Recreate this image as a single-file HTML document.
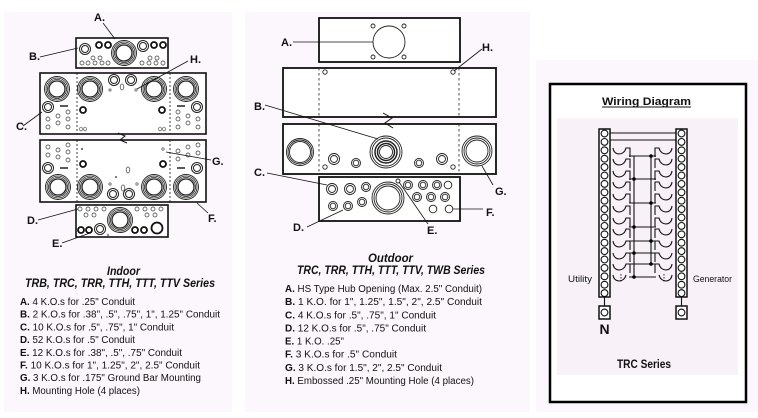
<!DOCTYPE html>
<html><head><meta charset="utf-8"><style>
html,body{margin:0;padding:0;background:#fff;}
svg{display:block;}
text{font-family:"Liberation Sans",sans-serif;fill:#111;}
</style></head><body>
<svg width="758" height="418" viewBox="0 0 758 418" xmlns="http://www.w3.org/2000/svg">
<defs>
<g id="bk"><circle r="12.5" fill="#fff" stroke="#222" stroke-width="0.9"/><circle r="11" fill="none" stroke="#222" stroke-width="0.8"/><circle r="9.5" fill="none" stroke="#222" stroke-width="0.8"/><circle r="8" fill="none" stroke="#222" stroke-width="1.3"/></g>
<g id="mk"><circle r="5.5" fill="#fff" stroke="#222" stroke-width="1"/><circle r="3.5" fill="none" stroke="#222" stroke-width="1"/></g>
<g id="tk"><circle r="3" fill="#fff" stroke="#111" stroke-width="1.8"/></g>
<g id="so"><circle r="2" fill="#fff" stroke="#333" stroke-width="0.7"/></g>
<g id="m2"><circle r="5.5" fill="#fff" stroke="#222" stroke-width="0.9"/><circle r="3.5" fill="none" stroke="#222" stroke-width="0.9"/></g>
<g id="m1"><circle r="4.5" fill="#fff" stroke="#222" stroke-width="0.9"/><circle r="2.8" fill="none" stroke="#222" stroke-width="0.9"/></g>
<g id="s1"><circle r="3.8" fill="#fff" stroke="#222" stroke-width="0.9"/></g>
<g id="tc"><circle r="3.4" fill="#fff" stroke="#111" stroke-width="1.1"/></g>
</defs>

<!-- panel backgrounds -->
<rect x="4" y="12" width="228" height="400" fill="#fcf7fc"/>
<rect x="245" y="12" width="285" height="400" fill="#fcf7fc"/>
<rect x="536" y="60" width="222" height="352" fill="#fcf7fc"/>

<!-- ===== LEFT (Indoor) ===== -->
<g stroke="#111" fill="none">
<rect x="76" y="38" width="92" height="30" stroke-width="1.6" fill="#fff"/>
<rect x="40" y="73" width="166" height="61" stroke-width="1.6" fill="#fff"/>
<rect x="40" y="140" width="166" height="62" stroke-width="1.6" fill="#fff"/>
<rect x="76" y="205" width="92" height="32" stroke-width="1.6" fill="#fff"/>
<g stroke-dasharray="2,2" stroke-width="0.8">
<line x1="77" y1="73" x2="77" y2="134"/><line x1="170" y1="73" x2="170" y2="134"/>
<line x1="77" y1="140" x2="77" y2="202"/><line x1="170" y1="140" x2="170" y2="202"/>
</g>
<polyline points="118,133 125,136 120,140 127,143" stroke-width="1" stroke="#111"/>
</g>
<!-- box A/B -->
<use href="#bk" x="124" y="53"/>
<use href="#mk" x="85" y="49"/><use href="#mk" x="143" y="46"/>
<use href="#tk" x="99" y="45"/><use href="#tk" x="108" y="45"/><use href="#tk" x="154" y="45"/><use href="#tk" x="163" y="45"/>
<use href="#so" x="82" y="63"/><use href="#so" x="88" y="63"/><use href="#so" x="95" y="63"/><use href="#so" x="102" y="63"/><use href="#so" x="108" y="63"/>
<use href="#so" x="93" y="58"/><use href="#so" x="100" y="58"/>
<use href="#so" x="142" y="63"/><use href="#so" x="149" y="63"/><use href="#so" x="156" y="63"/><use href="#so" x="163" y="63"/>
<use href="#so" x="150" y="58"/><use href="#so" x="157" y="58"/>
<!-- box 1 -->
<use href="#bk" x="57" y="89"/><use href="#bk" x="90" y="89"/><use href="#bk" x="154" y="89"/><use href="#bk" x="186" y="89"/>
<use href="#mk" x="114" y="80"/><use href="#mk" x="131" y="80"/>
<ellipse cx="122" cy="87" rx="1.8" ry="3" fill="none" stroke="#333" stroke-width="0.7"/>
<rect x="109" y="89" width="2" height="2" fill="none" stroke="#333" stroke-width="0.6"/>
<rect x="135" y="89" width="2" height="2" fill="none" stroke="#333" stroke-width="0.6"/>
<use href="#mk" x="48" y="107"/><use href="#mk" x="197" y="107"/>
<line x1="60" y1="106" x2="68" y2="106" stroke="#222" stroke-width="1.5"/>
<line x1="177" y1="106" x2="185" y2="106" stroke="#222" stroke-width="1.5"/>
<use href="#tk" x="83" y="110"/><use href="#tk" x="162" y="110"/>
<use href="#so" x="48" y="119"/><use href="#so" x="48" y="127"/><use href="#so" x="58" y="116"/><use href="#so" x="58" y="123"/><use href="#so" x="68" y="112"/><use href="#so" x="68" y="119"/><use href="#so" x="68" y="127"/>
<use href="#so" x="178" y="112"/><use href="#so" x="178" y="119"/><use href="#so" x="178" y="127"/><use href="#so" x="188" y="116"/><use href="#so" x="188" y="123"/><use href="#so" x="198" y="119"/><use href="#so" x="198" y="127"/>
<ellipse cx="81" cy="129" rx="1.3" ry="2" fill="none" stroke="#333" stroke-width="0.6"/><ellipse cx="85" cy="129" rx="1.3" ry="2" fill="none" stroke="#333" stroke-width="0.6"/>
<ellipse cx="160" cy="129" rx="1.3" ry="2" fill="none" stroke="#333" stroke-width="0.6"/><ellipse cx="164" cy="129" rx="1.3" ry="2" fill="none" stroke="#333" stroke-width="0.6"/>
<!-- box 2 -->
<use href="#bk" x="58" y="187"/><use href="#bk" x="90" y="187"/><use href="#bk" x="154" y="187"/><use href="#bk" x="186" y="187"/>
<use href="#mk" x="113" y="194"/><use href="#mk" x="129" y="194"/>
<use href="#mk" x="48" y="168"/><use href="#mk" x="197" y="168"/>
<line x1="60" y1="168" x2="68" y2="168" stroke="#222" stroke-width="1.5"/>
<line x1="177" y1="168" x2="185" y2="168" stroke="#222" stroke-width="1.5"/>
<use href="#tk" x="83" y="164"/><use href="#tk" x="163" y="164"/>
<use href="#so" x="48" y="147"/><use href="#so" x="48" y="155"/><use href="#so" x="58" y="150"/><use href="#so" x="58" y="157"/><use href="#so" x="68" y="145"/><use href="#so" x="68" y="152"/><use href="#so" x="68" y="160"/>
<use href="#so" x="178" y="151"/><use href="#so" x="178" y="159"/><use href="#so" x="188" y="147"/><use href="#so" x="188" y="155"/><use href="#so" x="198" y="145"/><use href="#so" x="198" y="153"/>
<ellipse cx="128" cy="170" rx="1.8" ry="3" fill="none" stroke="#333" stroke-width="0.7"/>
<ellipse cx="123" cy="188" rx="1.8" ry="3" fill="none" stroke="#333" stroke-width="0.7"/>
<circle cx="116" cy="177" r="0.9" fill="#222"/>
<circle cx="110" cy="184" r="1.2" fill="none" stroke="#333" stroke-width="0.6"/><circle cx="137" cy="184" r="1.2" fill="none" stroke="#333" stroke-width="0.6"/>
<circle cx="82" cy="149" r="1" fill="#444"/><circle cx="163" cy="149" r="1.2" fill="none" stroke="#333" stroke-width="0.6"/>
<!-- bottom box -->
<use href="#bk" x="120" y="220"/>
<use href="#so" x="80" y="209"/><use href="#so" x="88" y="209"/><use href="#so" x="96" y="209"/><use href="#so" x="104" y="209"/>
<use href="#so" x="86" y="215"/><use href="#so" x="94" y="215"/>
<use href="#so" x="137" y="209"/><use href="#so" x="145" y="209"/><use href="#so" x="153" y="209"/><use href="#so" x="161" y="209"/>
<use href="#so" x="147" y="215"/><use href="#so" x="155" y="215"/>
<use href="#tk" x="81" y="230"/><use href="#tk" x="89" y="230"/><use href="#mk" x="100" y="229"/>
<use href="#tk" x="135" y="230"/><use href="#tk" x="144" y="230"/>
<circle cx="157" cy="228" r="5.5" fill="#fff" stroke="#111" stroke-width="1.8"/>
<circle cx="108" cy="235" r="1" fill="none" stroke="#333" stroke-width="0.5"/>
<!-- left leaders -->
<g stroke="#111" stroke-width="0.8">
<line x1="103" y1="23" x2="115" y2="39"/>
<line x1="40" y1="57" x2="78" y2="48"/>
<line x1="188" y1="61" x2="137" y2="89"/>
<line x1="23" y1="126" x2="42" y2="112"/>
<line x1="211" y1="160" x2="166" y2="152"/>
<line x1="38" y1="220" x2="78" y2="209"/>
<line x1="208" y1="213" x2="197" y2="203"/>
<line x1="62" y1="243" x2="90" y2="233"/>
</g>
<g font-weight="bold" font-size="11">
<text x="94" y="21">A.</text>
<text x="29" y="60">B.</text>
<text x="190" y="63">H.</text>
<text x="16" y="130">C.</text>
<text x="212" y="165">G.</text>
<text x="27" y="224">D.</text>
<text x="208" y="222">F.</text>
<text x="52" y="247">E.</text>
</g>
<!-- left text -->
<text x="123.5" y="275" text-anchor="middle" font-size="12" font-weight="bold" font-style="italic" textLength="33" lengthAdjust="spacingAndGlyphs">Indoor</text>
<text x="25" y="287" font-size="12" font-weight="bold" font-style="italic" textLength="190" lengthAdjust="spacingAndGlyphs">TRB, TRC, TRR, TTH, TTT, TTV Series</text>
<g font-size="10">
<text x="20" y="305" textLength="115" lengthAdjust="spacingAndGlyphs"><tspan font-weight="bold">A.</tspan> 4 K.O.s for .25" Conduit</text>
<text x="20" y="317.7" textLength="200" lengthAdjust="spacingAndGlyphs"><tspan font-weight="bold">B.</tspan> 2 K.O.s for .38", .5", .75", 1", 1.25" Conduit</text>
<text x="20" y="330.4" textLength="154" lengthAdjust="spacingAndGlyphs"><tspan font-weight="bold">C.</tspan> 10 K.O.s for .5", .75", 1" Conduit</text>
<text x="20" y="343.1" textLength="115" lengthAdjust="spacingAndGlyphs"><tspan font-weight="bold">D.</tspan> 52 K.O.s for .5" Conduit</text>
<text x="20" y="355.8" textLength="162" lengthAdjust="spacingAndGlyphs"><tspan font-weight="bold">E.</tspan> 12 K.O.s for .38", .5", .75" Conduit</text>
<text x="20" y="368.5" textLength="180" lengthAdjust="spacingAndGlyphs"><tspan font-weight="bold">F.</tspan> 10 K.O.s for 1", 1.25", 2", 2.5" Conduit</text>
<text x="20" y="381.2" textLength="181" lengthAdjust="spacingAndGlyphs"><tspan font-weight="bold">G.</tspan> 3 K.O.s for .175" Ground Bar Mounting</text>
<text x="20" y="394" textLength="120" lengthAdjust="spacingAndGlyphs"><tspan font-weight="bold">H.</tspan> Mounting Hole (4 places)</text>
</g>

<!-- ===== MIDDLE (Outdoor) ===== -->
<g stroke="#111" fill="#fff">
<rect x="319" y="18" width="141" height="44" stroke-width="1.8"/>
<rect x="283" y="68" width="213" height="49" stroke-width="1.8"/>
<rect x="283" y="124" width="213" height="50" stroke-width="1.8"/>
<rect x="319" y="177" width="141" height="44" stroke-width="1.8"/>
</g>
<g stroke="#222" stroke-width="0.8" stroke-dasharray="2.5,2.5">
<line x1="319" y1="68" x2="319" y2="117"/><line x1="459" y1="68" x2="459" y2="117"/>
<line x1="319" y1="124" x2="319" y2="174"/><line x1="459" y1="124" x2="459" y2="174"/>
</g>
<polyline points="383,113 392,118 385,123 393,128" fill="none" stroke="#111" stroke-width="1"/>
<g fill="#fff" stroke="#222" stroke-width="0.9">
<circle cx="389" cy="42" r="16"/>
<circle cx="373" cy="26" r="2"/><circle cx="404" cy="26" r="2"/><circle cx="373" cy="57" r="2"/><circle cx="404" cy="57" r="2"/>
<circle cx="325" cy="72" r="2.2"/><circle cx="453" cy="72" r="2.2"/>
<circle cx="300" cy="152" r="13.5"/><circle cx="300" cy="152" r="12" fill="none"/><circle cx="300" cy="152" r="10.5" fill="none"/>
<circle cx="386" cy="152" r="16"/><circle cx="386" cy="152" r="14" fill="none"/><circle cx="386" cy="152" r="11" fill="none" stroke-width="1.5"/><circle cx="386" cy="152" r="8.5" fill="none" stroke-width="1.5"/><circle cx="386" cy="152" r="6.5" fill="none"/>
<circle cx="477" cy="151" r="15"/><circle cx="477" cy="151" r="13" fill="none"/><circle cx="477" cy="151" r="11" fill="none"/>
<circle cx="325" cy="167" r="2.2"/><circle cx="453" cy="167" r="2.2"/>
<circle cx="388" cy="198" r="16"/><circle cx="388" cy="198" r="14" fill="none"/><circle cx="388" cy="198" r="12" fill="none"/>
<circle cx="398" cy="181" r="2"/>
</g>
<use href="#m2" x="334" y="159"/><use href="#m1" x="356" y="163"/><use href="#m1" x="419" y="163"/><use href="#m2" x="442" y="159"/>
<use href="#m2" x="332" y="189"/><use href="#m2" x="350" y="189"/><use href="#m1" x="366" y="187"/>
<use href="#m1" x="333" y="206"/><use href="#m1" x="348" y="206"/><use href="#m1" x="362" y="202"/>
<use href="#m1" x="408" y="185"/><use href="#m1" x="423" y="185"/><use href="#m1" x="437" y="185"/><use href="#s1" x="448" y="185"/>
<use href="#m1" x="417" y="197"/><use href="#m1" x="431" y="197"/><use href="#m1" x="445" y="197"/>
<use href="#s1" x="433" y="209"/><use href="#s1" x="449" y="209"/>
<g stroke="#111" stroke-width="0.8">
<line x1="293" y1="42" x2="373" y2="42"/>
<line x1="482" y1="49" x2="454" y2="71"/>
<line x1="265" y1="105" x2="378" y2="139"/>
<line x1="267" y1="173" x2="327" y2="185"/>
<line x1="493" y1="185" x2="482" y2="166"/>
<line x1="307" y1="227" x2="343" y2="210"/>
<line x1="428" y1="224" x2="399" y2="182"/>
<line x1="453" y1="209" x2="483" y2="209"/>
</g>
<g font-weight="bold" font-size="11">
<text x="281" y="46">A.</text>
<text x="482" y="51">H.</text>
<text x="254" y="110">B.</text>
<text x="254" y="176">C.</text>
<text x="495" y="195">G.</text>
<text x="293" y="231">D.</text>
<text x="427" y="234">E.</text>
<text x="486" y="216">F.</text>
</g>
<text x="390.5" y="262" text-anchor="middle" font-size="12" font-weight="bold" font-style="italic" textLength="45" lengthAdjust="spacingAndGlyphs">Outdoor</text>
<text x="297" y="274" font-size="12" font-weight="bold" font-style="italic" textLength="188" lengthAdjust="spacingAndGlyphs">TRC, TRR, TTH, TTT, TTV, TWB Series</text>
<g font-size="10">
<text x="285" y="292" textLength="197" lengthAdjust="spacingAndGlyphs"><tspan font-weight="bold">A.</tspan> HS Type Hub Opening (Max. 2.5" Conduit)</text>
<text x="285" y="305.1" textLength="197" lengthAdjust="spacingAndGlyphs"><tspan font-weight="bold">B.</tspan> 1 K.O. for 1", 1.25", 1.5", 2", 2.5" Conduit</text>
<text x="285" y="318.3" textLength="151" lengthAdjust="spacingAndGlyphs"><tspan font-weight="bold">C.</tspan> 4 K.O.s for .5", .75", 1" Conduit</text>
<text x="285" y="331.4" textLength="141" lengthAdjust="spacingAndGlyphs"><tspan font-weight="bold">D.</tspan> 12 K.O.s for .5", .75" Conduit</text>
<text x="285" y="344.6" textLength="59" lengthAdjust="spacingAndGlyphs"><tspan font-weight="bold">E.</tspan> 1 K.O. .25"</text>
<text x="285" y="357.7" textLength="112" lengthAdjust="spacingAndGlyphs"><tspan font-weight="bold">F.</tspan> 3 K.O.s for .5" Conduit</text>
<text x="285" y="370.9" textLength="157" lengthAdjust="spacingAndGlyphs"><tspan font-weight="bold">G.</tspan> 3 K.O.s for 1.5", 2", 2.5" Conduit</text>
<text x="285" y="384" textLength="189" lengthAdjust="spacingAndGlyphs"><tspan font-weight="bold">H.</tspan> Embossed .25" Mounting Hole (4 places)</text>
</g>

<!-- ===== RIGHT (Wiring) ===== -->
<rect x="550" y="84" width="196" height="318" fill="#fff" stroke="#000" stroke-width="2.5"/>
<rect x="557" y="118" width="181" height="257" fill="#f8f2f8"/>
<text x="646.5" y="105" text-anchor="middle" font-size="11" font-weight="bold" textLength="89" lengthAdjust="spacingAndGlyphs">Wiring Diagram</text>
<line x1="602" y1="107" x2="691" y2="107" stroke="#111" stroke-width="1"/>
<!-- strips -->
<rect x="599" y="129" width="11" height="168" fill="#fff" stroke="#111" stroke-width="1.5"/>
<rect x="676" y="129" width="11" height="168" fill="#fff" stroke="#111" stroke-width="1.5"/>
<g>
<use href="#tc" x="604.5" y="133.5"/><use href="#tc" x="604.5" y="141.9"/><use href="#tc" x="604.5" y="150.3"/><use href="#tc" x="604.5" y="158.7"/><use href="#tc" x="604.5" y="167.1"/>
<use href="#tc" x="604.5" y="175.5"/><use href="#tc" x="604.5" y="183.9"/><use href="#tc" x="604.5" y="192.3"/><use href="#tc" x="604.5" y="200.7"/><use href="#tc" x="604.5" y="209.1"/>
<use href="#tc" x="604.5" y="217.5"/><use href="#tc" x="604.5" y="225.9"/><use href="#tc" x="604.5" y="234.3"/><use href="#tc" x="604.5" y="242.7"/><use href="#tc" x="604.5" y="251.1"/>
<use href="#tc" x="604.5" y="259.5"/><use href="#tc" x="604.5" y="267.9"/><use href="#tc" x="604.5" y="276.3"/><use href="#tc" x="604.5" y="284.7"/><use href="#tc" x="604.5" y="293.1"/>
<use href="#tc" x="681.5" y="133.5"/><use href="#tc" x="681.5" y="141.9"/><use href="#tc" x="681.5" y="150.3"/><use href="#tc" x="681.5" y="158.7"/><use href="#tc" x="681.5" y="167.1"/>
<use href="#tc" x="681.5" y="175.5"/><use href="#tc" x="681.5" y="183.9"/><use href="#tc" x="681.5" y="192.3"/><use href="#tc" x="681.5" y="200.7"/><use href="#tc" x="681.5" y="209.1"/>
<use href="#tc" x="681.5" y="217.5"/><use href="#tc" x="681.5" y="225.9"/><use href="#tc" x="681.5" y="234.3"/><use href="#tc" x="681.5" y="242.7"/><use href="#tc" x="681.5" y="251.1"/>
<use href="#tc" x="681.5" y="259.5"/><use href="#tc" x="681.5" y="267.9"/><use href="#tc" x="681.5" y="276.3"/><use href="#tc" x="681.5" y="284.7"/><use href="#tc" x="681.5" y="293.1"/>
</g>
<g stroke="#111" stroke-width="1.1" fill="none">
<line x1="610" y1="133" x2="676" y2="133"/>
<line x1="610" y1="140" x2="676" y2="140"/>
<line x1="604.5" y1="297" x2="604.5" y2="306"/>
<line x1="681.5" y1="297" x2="681.5" y2="306"/>
<rect x="599" y="306" width="11" height="13" fill="#fff" stroke-width="1.5"/>
<rect x="676" y="306" width="11" height="13" fill="#fff" stroke-width="1.5"/>
<circle cx="604.5" cy="312.5" r="3.4"/><circle cx="681.5" cy="312.5" r="3.4"/>
<line x1="634" y1="156" x2="634" y2="277"/>
<line x1="651" y1="156" x2="651" y2="264"/>
<line x1="629" y1="156" x2="656" y2="156"/>
<line x1="629" y1="179" x2="656" y2="179"/>
<line x1="629" y1="203" x2="656" y2="203"/>
<line x1="629" y1="227" x2="656" y2="227"/>
<line x1="629" y1="241" x2="656" y2="241"/>
<line x1="629" y1="253" x2="656" y2="253"/>
<line x1="629" y1="264" x2="656" y2="264"/>
<line x1="629" y1="277" x2="656" y2="277"/>
<path d="M613,148 C614,156 624,156 626,148 L630,148 L630,157"/>
<path d="M613,159 C614,167 624,167 626,159 L630,159 L630,168"/>
<path d="M613,171 C614,179 624,179 626,171 L630,171 L630,180"/>
<path d="M613,182 C614,190 624,190 626,182 L630,182 L630,191"/>
<path d="M613,194 C614,202 624,202 626,194 L630,194 L630,203"/>
<path d="M613,206 C614,214 624,214 626,206 L630,206 L630,215"/>
<path d="M613,218 C614,226 624,226 626,218 L630,218 L630,227"/>
<path d="M613,229 C614,237 624,237 626,229 L630,229 L630,238"/>
<path d="M613,241 C614,249 624,249 626,241 L630,241 L630,250"/>
<path d="M613,253 C614,261 624,261 626,253 L630,253 L630,262"/>
<path d="M613,264 C614,272 624,272 626,264 L630,264 L630,273"/>
<path d="M613,275 C614,283 624,283 626,275"/>
<path d="M672,148 C671,156 661,156 659,148 L655,148 L655,157"/>
<path d="M672,159 C671,167 661,167 659,159 L655,159 L655,168"/>
<path d="M672,171 C671,179 661,179 659,171 L655,171 L655,180"/>
<path d="M672,182 C671,190 661,190 659,182 L655,182 L655,191"/>
<path d="M672,194 C671,202 661,202 659,194 L655,194 L655,203"/>
<path d="M672,206 C671,214 661,214 659,206 L655,206 L655,215"/>
<path d="M672,218 C671,226 661,226 659,218 L655,218 L655,227"/>
<path d="M672,229 C671,237 661,237 659,229 L655,229 L655,238"/>
<path d="M672,241 C671,249 661,249 659,241 L655,241 L655,250"/>
<path d="M672,253 C671,261 661,261 659,253 L655,253 L655,262"/>
<path d="M672,264 C671,272 661,272 659,264 L655,264 L655,273"/>
<path d="M672,275 C671,283 661,283 659,275"/>
</g>
<g stroke="#111" stroke-width="0.9" stroke-dasharray="1.5,1.5">
<line x1="621" y1="274" x2="621" y2="282"/><line x1="664" y1="274" x2="664" y2="282"/>
</g>
<g fill="#000">
<circle cx="651" cy="156" r="1.8"/><circle cx="634" cy="179" r="1.8"/><circle cx="651" cy="203" r="1.8"/><circle cx="634" cy="227" r="1.8"/>
<circle cx="651" cy="241" r="1.8"/><circle cx="634" cy="253" r="1.8"/><circle cx="651" cy="264" r="1.8"/><circle cx="634" cy="277" r="1.8"/>
</g>
<text x="568" y="282" font-size="9" textLength="24" lengthAdjust="spacingAndGlyphs">Utility</text>
<text x="693" y="282" font-size="9" textLength="39" lengthAdjust="spacingAndGlyphs">Generator</text>
<text x="604.5" y="334" text-anchor="middle" font-size="14" font-weight="bold">N</text>
<text x="644" y="368" text-anchor="middle" font-size="11.5" font-weight="bold" textLength="54" lengthAdjust="spacingAndGlyphs">TRC Series</text>
</svg>
</body></html>
